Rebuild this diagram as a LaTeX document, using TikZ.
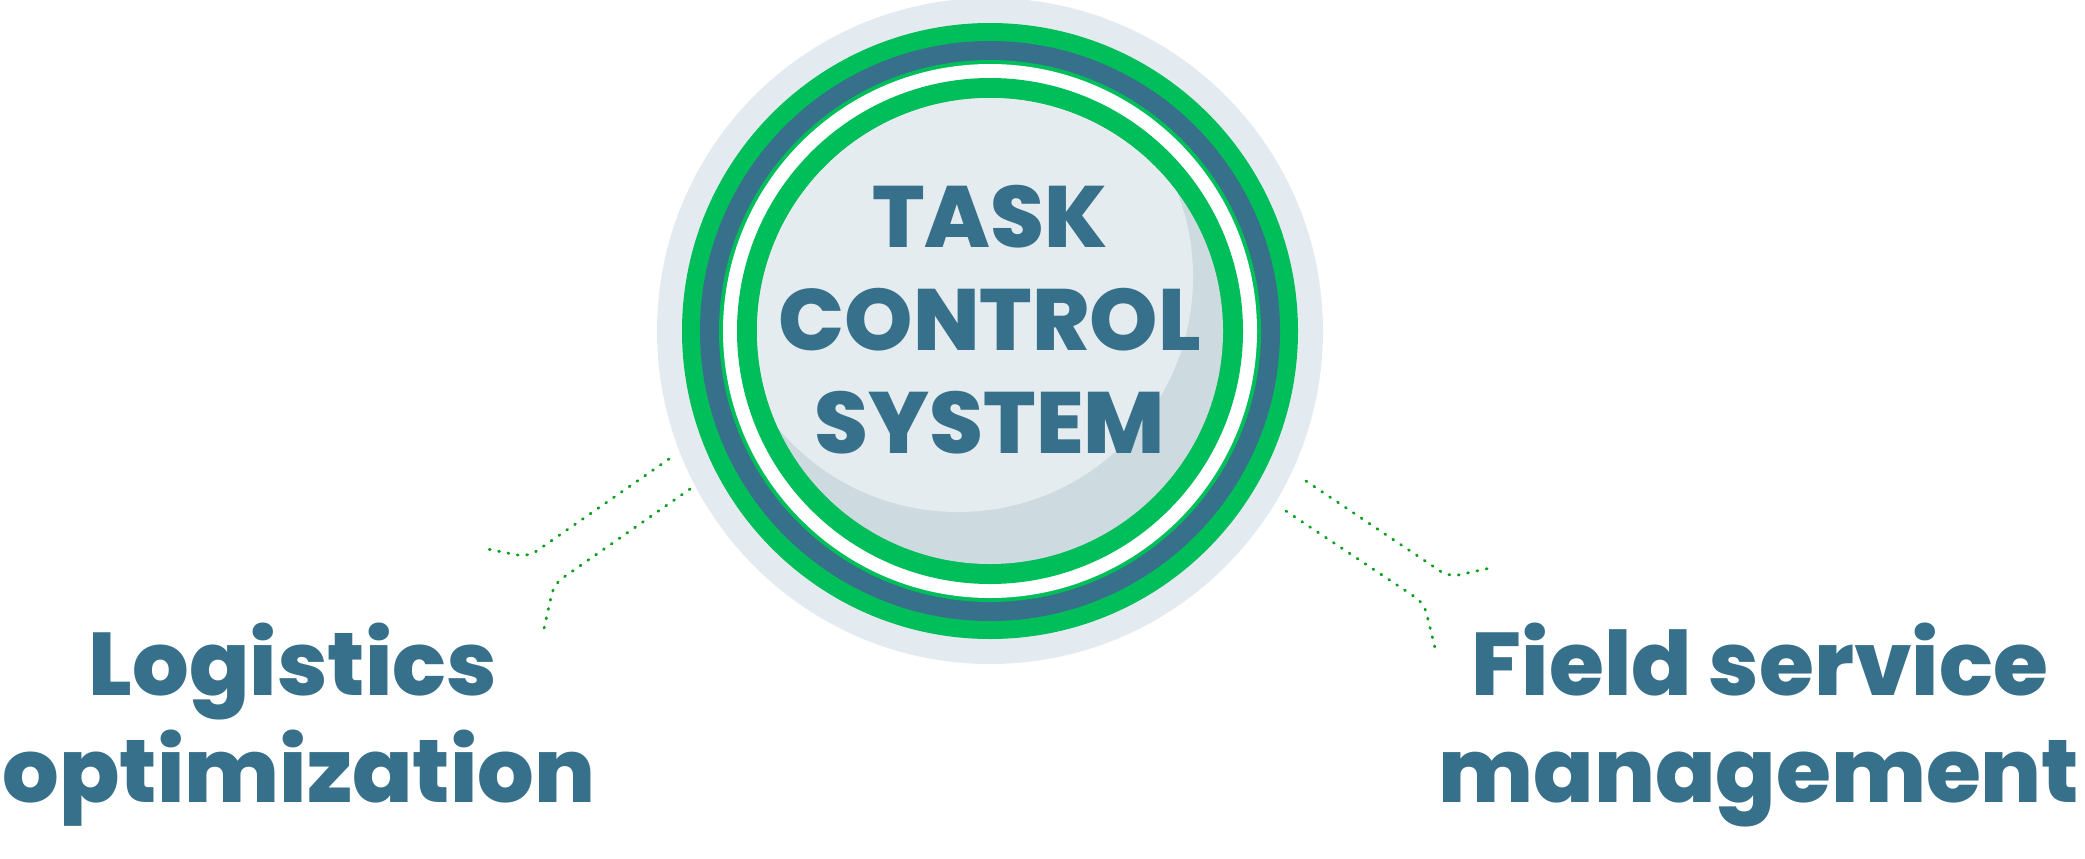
\documentclass[tikz,border=0pt]{standalone}
\usepackage{fontspec}
\setmainfont{Poppins}[BoldFont={* ExtraBold}]
\definecolor{halo}{RGB}{227,235,241}
\definecolor{ringgreen}{RGB}{0,190,90}
\definecolor{ringblue}{RGB}{55,112,138}
\definecolor{disclight}{RGB}{229,236,239}
\definecolor{discshade}{RGB}{205,219,225}
\definecolor{dotgreen}{RGB}{10,160,30}
\tikzset{
  titletext/.style={anchor=base, text=ringblue, font=\fontsize{87}{102}\selectfont\bfseries, inner sep=0pt},
  labeltext/.style={anchor=base, text=ringblue, font=\fontsize{89}{106}\selectfont\bfseries, inner sep=0pt},
  dotline/.style={draw=dotgreen, line width=2.8pt, line cap=round, dash pattern=on 1pt off 8.5pt}
}
\begin{document}
\begin{tikzpicture}[x=1pt,y=-1pt]
\useasboundingbox (0,0) rectangle (2085,859);
\coordinate (c) at (990,331);
% rings
\fill[halo] (c) circle[radius=333];
\fill[ringgreen] (c) circle[radius=308];
\fill[ringblue] (c) circle[radius=290];
\fill[ringgreen] (c) circle[radius=271];
\fill[white] (c) circle[radius=267];
\fill[ringgreen] (c) circle[radius=253];
\fill[discshade] (c) circle[radius=233];
\begin{scope}
  \clip (c) circle[radius=233];
  \fill[disclight] (958,277) circle[radius=235];
\end{scope}
% title
\node[titletext] (t1) at (990,247) {TASK};
\node[titletext] (t2) at (990,350) {CONTROL};
\node[titletext] (t3) at (990,453) {SYSTEM};
% labels
\node[labeltext] (l1) at (293,695) {Logistics};
\node[labeltext] (l2) at (299,802) {optimization};
\node[labeltext] (r1) at (1760,695) {Field service};
\node[labeltext] (r2) at (1759,802) {management};
% dotted connectors
\coordinate (a0) at (669,459); \coordinate (a1) at (528,557); \coordinate (a2) at (482,548);
\coordinate (b0) at (690,489); \coordinate (b1) at (554,584); \coordinate (b2) at (543,633);
\coordinate (c0) at (1306,481); \coordinate (c1) at (1449,577); \coordinate (c2) at (1495,567);
\coordinate (d0) at (1286,511); \coordinate (d1) at (1424,603); \coordinate (d2) at (1436,652);
\draw[dotline, rounded corners=10pt] (a0) -- (a1) -- (a2);
\draw[dotline, rounded corners=10pt] (b0) -- (b1) -- (b2);
\draw[dotline, rounded corners=10pt] (c0) -- (c1) -- (c2);
\draw[dotline, rounded corners=10pt] (d0) -- (d1) -- (d2);
\end{tikzpicture}
\end{document}
